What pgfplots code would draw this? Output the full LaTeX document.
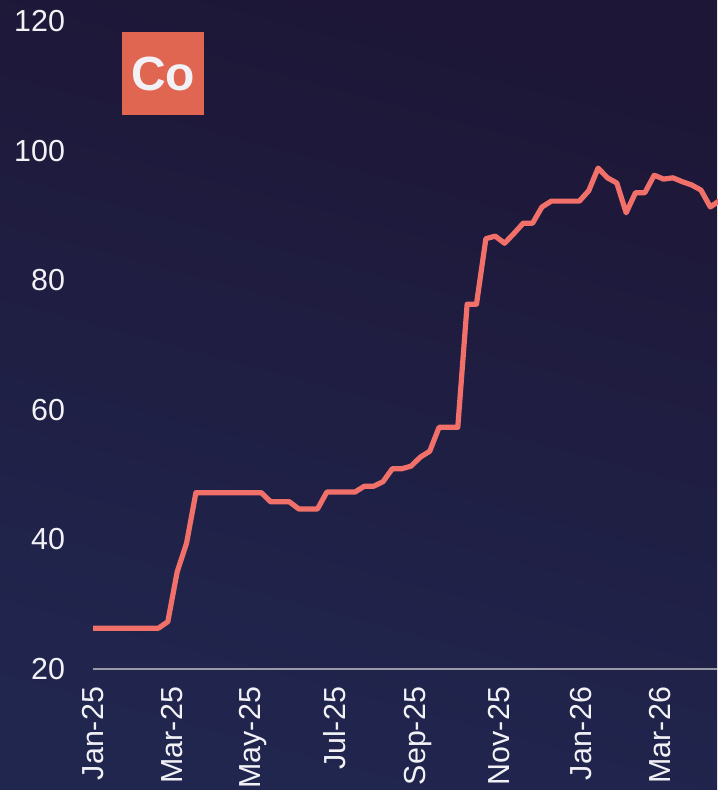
\documentclass[border=0pt]{standalone}
\usepackage{pgfplots}
\pgfplotsset{compat=1.18}
\usepackage{fontspec}
\setmainfont{Liberation Sans}
\definecolor{BgTop}{HTML}{1D1636}
\definecolor{BgBottom}{HTML}{21264F}
\definecolor{LineSalmon}{HTML}{F2706A}
\definecolor{BoxRed}{HTML}{E06652}
\definecolor{AxisGray}{HTML}{9A9AA6}
\definecolor{TickWhite}{HTML}{F2F2F6}

\begin{document}
\begin{tikzpicture}[x=1pt,y=1pt]
% page is 717 x 790 px at 0.5pt per px
\shade[top color=BgTop, bottom color=BgBottom, shading angle=-15] (0,0) rectangle (358.5,395);
\begin{axis}[
    at={(46.5pt,60.5pt)}, anchor=south west,
    scale only axis, width=312pt, height=324pt,
    xmin=0, xmax=467, ymin=20, ymax=120,
    clip=false,
    axis x line*=bottom, axis y line*=left,
    x axis line style={draw=AxisGray, line width=1pt, -},
    y axis line style={draw=none},
    major tick length=0pt,
    xtick={0,59,120,181,243,304,365,424},
    xticklabels={Jan-25,Mar-25,May-25,Jul-25,Sep-25,Nov-25,Jan-26,Mar-26},
    ytick={20,40,60,80,100,120},
    /pgf/number format/assume math mode=true,
    xticklabel style={rotate=90, anchor=east, font=\fontsize{15.2}{17}\selectfont, text=TickWhite},
    yticklabel style={font=\fontsize{15.2}{17}\selectfont, text=TickWhite},
    xticklabel shift=5.5pt,
    yticklabel shift=10.5pt,
]
\addplot[LineSalmon, line width=2.6pt, line join=round, mark=none] table {
x y
0 26.3
7 26.3
14 26.3
21 26.3
28 26.3
35 26.3
42 26.3
49 26.3
56 27.3
63 35.0
70 39.4
77 47.2
84 47.2
91 47.2
98 47.2
105 47.2
112 47.2
119 47.2
126 47.2
133 45.8
140 45.8
147 45.8
154 44.7
161 44.7
168 44.7
175 47.3
182 47.3
189 47.3
196 47.3
203 48.2
210 48.2
217 48.9
224 50.9
231 50.9
238 51.3
245 52.7
252 53.6
259 57.3
266 57.3
273 57.3
280 76.3
287 76.3
294 86.4
301 86.8
308 85.7
315 87.2
322 88.8
329 88.8
336 91.3
343 92.2
350 92.2
357 92.2
364 92.2
371 93.8
378 97.3
385 95.8
392 95.0
399 90.4
406 93.5
413 93.5
420 96.2
427 95.6
434 95.8
441 95.2
448 94.7
455 93.9
462 91.3
469 92.3
};
\end{axis}
\node[fill=BoxRed, minimum width=41pt, minimum height=41.5pt, inner sep=0pt,
      text=TickWhite, font=\bfseries\fontsize{24}{24}\selectfont] at (81.5,358.25) {Co};
\pgfresetboundingbox
\useasboundingbox (0,0) rectangle (358.5,395);
\end{tikzpicture}
\end{document}
